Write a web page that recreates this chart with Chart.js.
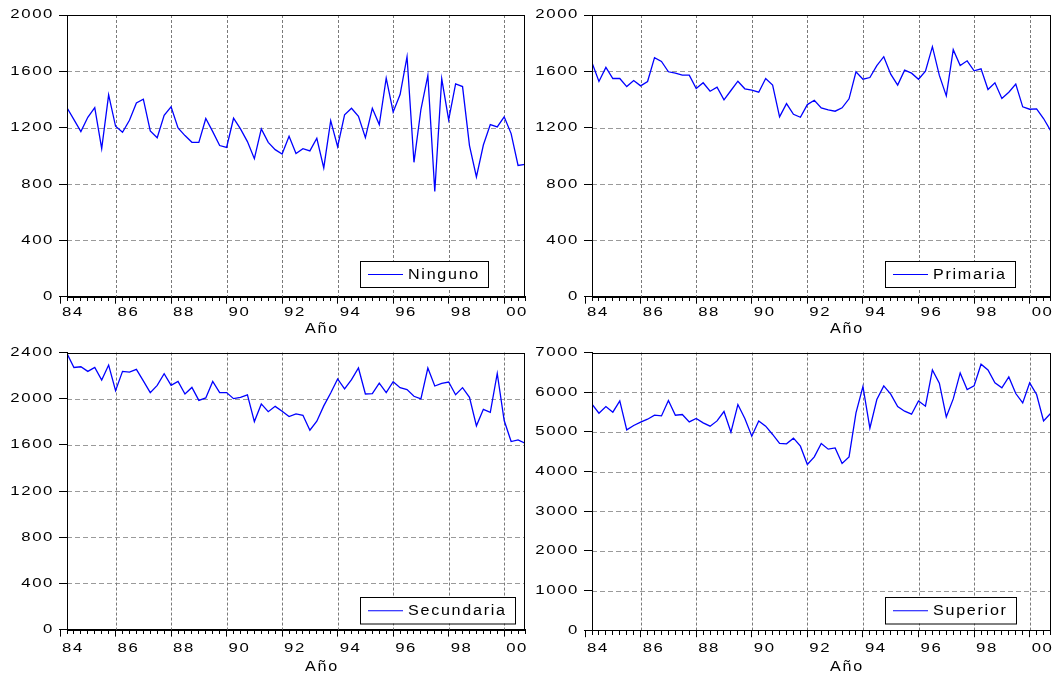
<!DOCTYPE html>
<html><head><meta charset="utf-8">
<script src="https://cdn.jsdelivr.net/npm/chart.js@4.4.1/dist/chart.umd.min.js"></script>
<style>
html,body{margin:0;padding:0;background:#fff;width:1056px;height:676px;overflow:hidden;position:relative}
canvas{position:absolute}
</style></head><body>
<canvas id="c1" width="540" height="340" style="left:0;top:0"></canvas>
<canvas id="c2" width="528" height="340" style="left:528px;top:0"></canvas>
<canvas id="c3" width="540" height="336" style="left:0;top:340px"></canvas>
<canvas id="c4" width="528" height="336" style="left:528px;top:340px"></canvas>
<script>
// Quarterly series 1984Q2 .. 2000Q4 (67 observations)
const xYearLabels = ['84','86','88','90','92','94','96','98','00'];
const xAxisTitle = 'Año';

const ninguno = [1341,1257,1172,1274,1343,1051,1433,1210,1167,1253,
  1376,1402,1177,1129,1288,1348,1198,1144,1096,1096,
  1265,1172,1073,1060,1267,1191,1101,980,1191,1096,
  1044,1013,1139,1016,1051,1035,1125,914,1250,1065,
  1291,1338,1281,1129,1338,1222,1551,1312,1435,1704,
  954,1329,1571,747,1547,1255,1511,1492,1073,850,
  1077,1222,1205,1277,1158,932,939];

const primaria = [1661,1528,1628,1549,1549,1492,1535,1497,1528,1697,
  1670,1597,1587,1573,1573,1478,1519,1459,1487,1398,
  1464,1530,1476,1466,1452,1549,1502,1277,1371,1295,
  1274,1364,1395,1341,1326,1317,1341,1405,1597,1544,
  1556,1640,1704,1580,1502,1608,1587,1544,1601,1775,
  1571,1426,1754,1642,1675,1604,1618,1471,1519,1407,
  1452,1509,1348,1331,1334,1265,1181];

const secundaria = [2392,2271,2277,2237,2271,2162,2292,2070,2237,2231,
  2254,2154,2053,2116,2217,2116,2150,2041,2098,1986,
  2007,2150,2053,2053,2001,2012,2033,1802,1955,1888,
  1934,1891,1845,1869,1857,1727,1805,1938,2050,2171,
  2085,2165,2266,2041,2044,2136,2053,2148,2096,2079,
  2021,1998,2266,2110,2133,2145,2035,2096,2012,1765,
  1908,1882,2219,1811,1629,1644,1615];

const superior = [5698,5471,5640,5496,5781,5051,5161,5245,5320,5421,
  5403,5791,5421,5438,5252,5338,5227,5144,5277,5514,
  4993,5690,5338,4892,5277,5144,4935,4708,4698,4841,
  4640,4179,4370,4708,4564,4597,4204,4370,5479,6144,
  5093,5816,6159,5950,5640,5522,5446,5781,5648,6562,
  6227,5378,5832,6486,6068,6159,6706,6562,6235,6109,
  6386,5967,5731,6235,5942,5277,5464];

const seriesNames = ['Ninguno','Primaria','Secundaria','Superior'];
const yMaxes = [2000, 2000, 2400, 7000];
const ySteps = [400, 400, 400, 1000];

const FONT = "'Liberation Sans', Arial, sans-serif";

// ticks: one per quarter, starting at 1984Q1 (index -1)
const nObs = ninguno.length;
const quarterTicks = [];
for (let q = -1; q < nObs; q++) quarterTicks.push(q);
const isMajor = v => (v + 1) % 8 === 0;

const stretchPlugin = {
  id: 'stretch',
  beforeInit(chart) {
    const ctx = chart.ctx;
    const orig = ctx.fillText;
    ctx.fillText = function (t, x, y, mw) {
      const m = /([\d.]+)px/.exec(this.font);
      const size = m ? parseFloat(m[1]) : 12;
      const big = size >= 13.5;
      this.save();
      try { this.letterSpacing = big ? '1.5px' : '1.2px'; } catch (e) {}
      this.translate(x, y);
      this.scale(big ? 1.15 : 1.33, 1);
      if (mw === undefined) orig.call(this, t, 0, 0); else orig.call(this, t, 0, 0, mw);
      this.restore();
    };
  }
};

const gridPlugin = {
  id: 'dashGrid',
  beforeDatasetsDraw(chart) {
    const ctx = chart.ctx, a = chart.chartArea;
    const xs = chart.scales.x, ys = chart.scales.y;
    ctx.save();
    ctx.lineWidth = 1;
    ctx.strokeStyle = '#9a9a9a';
    ctx.setLineDash([5, 3]);
    ys.ticks.forEach(t => {
      const y = Math.round(ys.getPixelForValue(t.value)) + 0.5;
      ctx.beginPath(); ctx.moveTo(a.left, y); ctx.lineTo(a.right, y); ctx.stroke();
    });
    ctx.strokeStyle = '#7a7a7a';
    ctx.setLineDash([3, 2]);
    xs.ticks.forEach(t => {
      if (!isMajor(t.value) || t.value < xs.min || t.value > xs.max) return;
      const x = Math.round(xs.getPixelForValue(t.value)) + 0.5;
      ctx.beginPath(); ctx.moveTo(x, a.top); ctx.lineTo(x, a.bottom); ctx.stroke();
    });
    ctx.restore();
  }
};

const frameLegendPlugin = {
  id: 'frameLegend',
  afterDatasetsDraw(chart, args, opts) {
    const ctx = chart.ctx, a = chart.chartArea;
    ctx.save();
    ctx.strokeStyle = '#000';
    ctx.lineWidth = 1;
    const l = Math.round(a.left) + 0.5, t = Math.round(a.top) + 0.5;
    ctx.strokeRect(l, t, Math.round(a.right) - Math.round(a.left) - 1, Math.round(a.bottom) - Math.round(a.top));
    // legend box
    const label = chart.data.datasets[0].label;
    ctx.font = "14px " + FONT;
    const w = (ctx.measureText(label).width + label.length * 1.5) * 1.15;
    const bx = Math.round(a.left + opts.legendDx), by = Math.round(a.bottom - opts.legendTop);
    const bh = opts.legendH, bw = Math.round(48 + w + 8);
    ctx.fillStyle = '#fff';
    ctx.fillRect(bx, by, bw, bh);
    ctx.strokeRect(bx + 0.5, by + 0.5, bw, bh);
    ctx.strokeStyle = '#0000ff';
    ctx.lineWidth = 1.2;
    ctx.beginPath();
    ctx.moveTo(bx + 8, by + bh / 2 + 0.5);
    ctx.lineTo(bx + 43, by + bh / 2 + 0.5);
    ctx.stroke();
    ctx.fillStyle = '#000';
    ctx.textAlign = 'left';
    ctx.textBaseline = 'middle';
    ctx.fillText(label, bx + 48, by + bh / 2 + 1);
    // axis title
    ctx.textAlign = 'center';
    ctx.textBaseline = 'alphabetic';
    ctx.fillText(opts.title, a.left + 255, a.bottom + opts.titleDy);
    ctx.restore();
  }
};

const layouts = [
  {id: 'c1', L: 67, padTop: 15, padRight: 15,  xH: 43.3, xPad: 1, legendTop: 35.5, legendH: 26, titleDy: 36.6},
  {id: 'c2', L: 64, padTop: 15, padRight: 5.5, xH: 43.3, xPad: 1, legendTop: 35.5, legendH: 26, titleDy: 36.6},
  {id: 'c3', L: 67, padTop: 11.3, padRight: 15,  xH: 46.4, xPad: 4, legendTop: 33, legendH: 26.5, titleDy: 41},
  {id: 'c4', L: 64, padTop: 11.3, padRight: 5.5, xH: 45.8, xPad: 4, legendTop: 33, legendH: 26.5, titleDy: 41}
];
const allSeries = [ninguno, primaria, secundaria, superior];

layouts.forEach((lay, i) => {
  const values = allSeries[i];
  new Chart(document.getElementById(lay.id), {
    type: 'line',
    data: {
      datasets: [{
        label: seriesNames[i],
        data: values.map((v, k) => ({x: k, y: v})),
        borderColor: '#0000ff',
        borderWidth: 1.3,
        pointRadius: 0,
        tension: 0,
        fill: false
      }]
    },
    options: {
      responsive: false,
      animation: false,
      devicePixelRatio: 1,
      layout: {padding: {left: 0, top: lay.padTop, right: lay.padRight, bottom: 0}},
      plugins: {
        legend: {display: false},
        tooltip: {enabled: false},
        frameLegend: {legendDx: 292.5, legendTop: lay.legendTop, legendH: lay.legendH, title: xAxisTitle, titleDy: lay.titleDy}
      },
      scales: {
        x: {
          type: 'linear', min: 0, max: nObs - 1, position: 'bottom',
          afterBuildTicks: s => { s.ticks = quarterTicks.map(v => ({value: v})); },
          afterFit: s => { s.height = lay.xH; s.paddingLeft = 0; s.paddingRight = 0; },
          ticks: {
            autoSkip: false, maxRotation: 0, minRotation: 0, align: 'start', labelOffset: 2,
            padding: lay.xPad, color: '#000', font: {family: FONT, size: 12.6},
            callback: v => (isMajor(v) ? xYearLabels[(v + 1) / 8] : '')
          },
          grid: {
            drawOnChartArea: false,
            lineWidth: 1, drawTicks: true, tickLength: 7, tickColor: '#000', tickWidth: 1,
            tickBorderDash: c => (c.tick && isMajor(c.tick.value)) ? [] : [4, 20]
          },
          border: {display: true, color: '#000', width: 1}
        },
        y: {
          min: 0, max: yMaxes[i], position: 'left',
          afterFit: s => { s.width = lay.L; },
          ticks: {stepSize: ySteps[i], padding: 5, color: '#000', font: {family: FONT, size: 12.6},
            callback: v => String(v)},
          grid: {drawOnChartArea: false, lineWidth: 1, tickColor: '#000', tickLength: 8, tickWidth: 1},
          border: {display: true, color: '#000', width: 1}
        }
      }
    },
    plugins: [stretchPlugin, gridPlugin, frameLegendPlugin]
  });
});
</script>
</body></html>
